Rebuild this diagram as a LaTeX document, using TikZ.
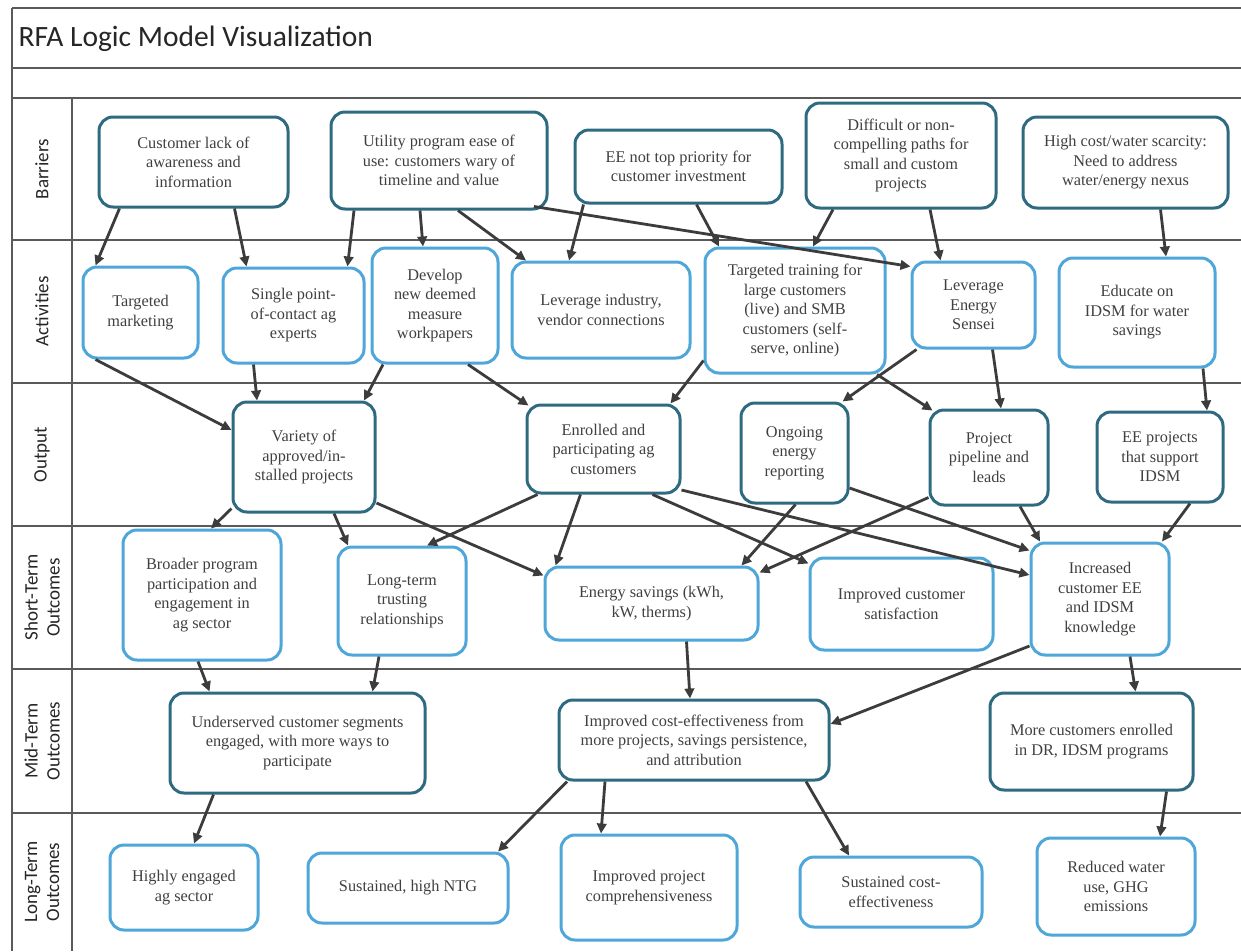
\documentclass[tikz,border=0pt]{standalone}
\usepackage{fontspec}
\setmainfont{Liberation Serif}
\newfontfamily\labfont{Carlito}
\usetikzlibrary{arrows.meta}
\definecolor{darkb}{HTML}{2E6A80}
\definecolor{lightb}{HTML}{4EA7D8}
\definecolor{arr}{HTML}{3C3C3C}
\definecolor{txt}{HTML}{404040}
\definecolor{gridc}{HTML}{5A5A5A}
\begin{document}
\begin{tikzpicture}[x=1pt,y=-1pt,
 box/.style={rounded corners=14pt, line width=3pt, fill=white, align=center, text=txt, font=\fontsize{16.3}{19.5}\selectfont, inner sep=2pt},
 dbox/.style={box, draw=darkb},
 lbox/.style={box, draw=lightb},
 conn/.style={draw=arr, line width=2.8pt, -{Triangle[length=10pt,width=9.5pt]}},
 rowlab/.style={rotate=90, align=center, font=\labfont\fontsize{19}{22}\selectfont, text=black!85},
 gridline/.style={draw=gridc, line width=1.5pt}]
\useasboundingbox (0,0) rectangle (1241,951);
\fill[white] (0,0) rectangle (1241,951);
% frame
\draw[gridline] (12,8) -- (1241,8);
\draw[gridline] (12,68) -- (1241,68);
\draw[gridline] (12,98) -- (1241,98);
\foreach \yy in {240,383,526,669,813} \draw[gridline] (12,\yy) -- (1241,\yy);
\draw[gridline] (12,8) -- (12,951);
\draw[gridline] (72,98) -- (72,951);
\node[anchor=west, font=\labfont\fontsize{29.5}{32}\selectfont, text=black!85] (title) at (15,39) {RFA Logic Model Visualization};
% row labels
\node[rowlab] (lb1) at (42,169) {Barriers};
\node[rowlab] (lb2) at (42,311.5) {Activities};
\node[rowlab] (lb3) at (42,454.5) {Output};
\node[rowlab] (lb4) at (42,597.5) {Short-Term\\Outcomes};
\node[rowlab] (lb5) at (42,741) {Mid-Term\\Outcomes};
\node[rowlab] (lb6) at (42,882) {Long-Term\\Outcomes};
% barriers
\node[dbox, minimum width=189pt, minimum height=90pt] (b1) at (193.5,162) {Customer lack of\\awareness and\\information};
\node[dbox, minimum width=216pt, minimum height=97pt] (b2) at (439,160.5) {Utility program ease of\\use: customers wary of\\timeline and value};
\node[dbox, minimum width=207pt, minimum height=73pt] (b3) at (678.5,166.5) {EE not top priority for\\customer investment};
\node[dbox, minimum width=190pt, minimum height=105pt] (b4) at (901,155.5) {Difficult or non-\\compelling paths for\\small and custom\\projects};
\node[dbox, minimum width=205pt, minimum height=91pt] (b5) at (1125.5,162.5) {High cost/water scarcity:\\Need to address\\water/energy nexus};
% activities
\node[lbox, minimum width=115pt, minimum height=91pt] (a1) at (140.5,312.5) {Targeted\\marketing};
\node[lbox, minimum width=141pt, minimum height=95pt] (a2) at (293.5,315.5) {Single point-\\of-contact ag\\experts};
\node[lbox, minimum width=126pt, minimum height=115pt] (a3) at (435,305.5) {Develop\\new deemed\\measure\\workpapers};
\node[lbox, minimum width=178pt, minimum height=96pt] (a4) at (601,310) {Leverage industry,\\vendor connections};
\node[lbox, minimum width=180pt, minimum height=125pt] (a5) at (795,310.5) {Targeted training for\\large customers\\(live) and SMB\\customers (self-\\serve, online)};
\node[lbox, minimum width=123pt, minimum height=86pt] (a6) at (973.5,305) {Leverage\\Energy\\Sensei};
\node[lbox, minimum width=156pt, minimum height=109pt] (a7) at (1137,312.5) {Educate on\\IDSM for water\\savings};
% output
\node[dbox, minimum width=142pt, minimum height=110pt] (o1) at (304,457) {Variety of\\approved/in-\\stalled projects};
\node[dbox, minimum width=153pt, minimum height=88pt] (o2) at (603.5,449) {Enrolled and\\participating ag\\customers};
\node[dbox, minimum width=107pt, minimum height=100pt] (o3) at (794.5,453) {Ongoing\\energy\\reporting};
\node[dbox, minimum width=118pt, minimum height=95pt] (o4) at (989,457.5) {Project\\pipeline and\\leads};
\node[dbox, minimum width=126pt, minimum height=90pt] (o5) at (1160,457) {EE projects\\that support\\IDSM};
% short-term
\node[lbox, minimum width=158pt, minimum height=130pt] (s1) at (202,595) {Broader program\\participation and\\engagement in\\ag sector};
\node[lbox, minimum width=128pt, minimum height=108pt] (s2) at (402,601) {Long-term\\trusting\\relationships};
\node[lbox, minimum width=213pt, minimum height=73pt] (s3) at (651.5,603.5) {Energy savings (kWh,\\kW, therms)};
\node[lbox, minimum width=183pt, minimum height=92pt] (s4) at (901.5,604) {Improved customer\\satisfaction};
\node[lbox, minimum width=138pt, minimum height=112pt] (s5) at (1100,599) {Increased\\customer EE\\and IDSM\\knowledge};
% mid-term
\node[dbox, minimum width=255pt, minimum height=100pt] (m1) at (297.5,743) {Underserved customer segments\\engaged, with more ways to\\participate};
\node[dbox, minimum width=270pt, minimum height=80pt] (m2) at (694,740) {Improved cost-effectiveness from\\more projects, savings persistence,\\and attribution};
\node[dbox, minimum width=203pt, minimum height=97pt] (m3) at (1091.5,741.5) {More customers enrolled\\in DR, IDSM programs};
% long-term
\node[lbox, minimum width=148pt, minimum height=85pt] (l1) at (184,887.5) {Highly engaged\\ag sector};
\node[lbox, minimum width=200pt, minimum height=70pt] (l2) at (408,888) {Sustained, high NTG};
\node[lbox, minimum width=176pt, minimum height=105pt] (l3) at (649,887.5) {Improved project\\comprehensiveness};
\node[lbox, minimum width=182pt, minimum height=70pt] (l4) at (891,892) {Sustained cost-\\effectiveness};
\node[lbox, minimum width=158pt, minimum height=97pt] (l5) at (1116,886.5) {Reduced water\\use, GHG\\emissions};
% connectors: barriers -> activities
\draw[conn] ([xshift=-74pt]b1.south) -- ([xshift=-45pt]a1.north);
\draw[conn] ([xshift=41pt]b1.south) -- ([xshift=-47pt]a2.north);
\draw[conn] ([xshift=-85pt]b2.south) -- ([xshift=54pt]a2.north);
\draw[conn] ([xshift=-19pt]b2.south) -- ([xshift=-12pt]a3.north);
\draw[conn] ([xshift=19pt]b2.south) -- ([xshift=-75pt]a4.north);
\draw[conn] ([xshift=95pt,yshift=4pt]b2.south) -- ([yshift=-6pt]a6.north west);
\draw[conn] ([xshift=-95pt]b3.south) -- ([xshift=-32pt]a4.north);
\draw[conn] ([xshift=18pt]b3.south) -- ([xshift=-76pt]a5.north);
\draw[conn] ([xshift=-68pt]b4.south) -- ([xshift=18pt]a5.north);
\draw[conn] ([xshift=29pt]b4.south) -- ([xshift=-33pt]a6.north);
\draw[conn] ([xshift=35pt]b5.south) -- ([xshift=29pt]a7.north);
% activities -> output
\draw[conn] ([xshift=-45pt]a1.south) -- ([yshift=27pt]o1.west);
\draw[conn] ([xshift=-40pt]a2.south) -- ([xshift=-47pt]o1.north);
\draw[conn] ([xshift=-52pt]a3.south) -- ([xshift=60pt]o1.north);
\draw[conn] ([xshift=33pt]a3.south) -- ([xshift=3pt,yshift=-2pt]o2.north west);
\draw[conn] ([yshift=-50pt]a5.west) -- ([xshift=67pt]o2.north);
\draw[conn] ([xshift=82pt]a5.south) -- ([xshift=4pt,yshift=-2pt]o4.north west);
\draw[conn] ([xshift=-57pt]a6.south) -- ([xshift=48pt]o3.north);
\draw[conn] ([xshift=19pt]a6.south) -- ([xshift=12pt]o4.north);
\draw[conn] ([xshift=66pt]a7.south) -- ([xshift=47pt]o5.north);
% output -> short-term
\draw[conn] ([yshift=5pt]o1.south west) -- ([xshift=9pt]s1.north);
\draw[conn] ([xshift=30pt]o1.south) -- ([xshift=-54pt]s2.north);
\draw[conn] ([yshift=-46pt]o1.east) -- ([yshift=28pt]s3.west);
\draw[conn] ([xshift=-66pt]o2.south) -- ([xshift=25pt]s2.north);
\draw[conn] ([xshift=-23pt]o2.south) -- ([xshift=-96pt]s3.north);
\draw[conn] ([xshift=49pt]o2.south) -- ([yshift=-7pt]s4.north west);
\draw[conn] ([yshift=-41pt]o2.east) -- ([yshift=24pt]s5.west);
\draw[conn] ([xshift=1pt]o3.south) -- ([xshift=90pt]s3.north);
\draw[conn] ([yshift=-35pt]o3.east) -- ([yshift=-9pt]s5.north west);
\draw[conn] ([yshift=-40pt]o4.west) -- ([yshift=31pt]s3.east);
\draw[conn] ([xshift=31pt]o4.south) -- ([xshift=-60pt]s5.north);
\draw[conn] ([xshift=30pt]o5.south) -- ([xshift=62pt]s5.north);
% short-term -> mid-term
\draw[conn] ([xshift=-4pt]s1.south) -- ([xshift=-88pt]m1.north);
\draw[conn] ([xshift=-23pt]s2.south) -- ([xshift=75pt]m1.north);
\draw[conn] ([xshift=35pt]s3.south) -- ([xshift=-4pt]m2.north);
\draw[conn] ([yshift=-47pt]s5.west) -- ([yshift=16pt]m2.east);
\draw[conn] ([xshift=30pt]s5.south) -- ([xshift=44pt]m3.north);
% mid-term -> long-term
\draw[conn] ([xshift=-84pt]m1.south) -- ([xshift=10pt]l1.north);
\draw[conn] ([xshift=-127pt]m2.south) -- ([xshift=90pt]l2.north);
\draw[conn] ([xshift=-89pt]m2.south) -- ([xshift=-48pt]l3.north);
\draw[conn] ([xshift=112pt]m2.south) -- ([xshift=-42pt]l4.north);
\draw[conn] ([xshift=75pt]m3.south) -- ([xshift=44pt]l5.north);
\end{tikzpicture}
\end{document}
